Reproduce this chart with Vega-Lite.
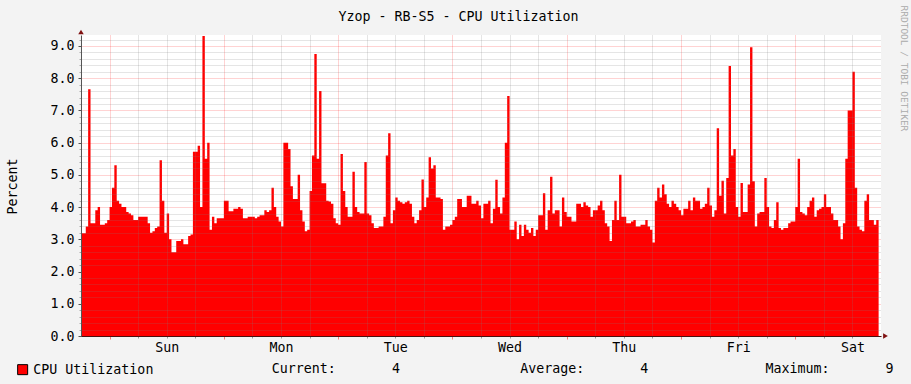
{
"$schema": "https://vega.github.io/schema/vega-lite/v6.json",
"width": 800,
"height": 301,
"autosize": {"type": "none"},
"padding": {"left": 81, "top": 35, "right": 30, "bottom": 48},
"background": "#F3F3F3",
"config": {
  "view": {"fill": "#FFFFFF", "stroke": null},
  "font": "DejaVu Sans Mono",
  "axis": {"labelFont": "DejaVu Sans Mono", "titleFont": "DejaVu Sans Mono", "labelFontSize": 13.3, "titleFontSize": 13.3, "labelColor": "#000000", "titleColor": "#000000", "titleFontWeight": "normal"}
},
"title": {"text": "Yzop - RB-S5 - CPU Utilization", "font": "DejaVu Sans Mono", "fontSize": 13.3, "fontWeight": "normal", "color": "#000000", "anchor": "middle", "frame": "group", "dx": -22.5, "offset": -25, "baseline": "middle"},
"data": {"values": [
{"t":"2024-06-01T18:00Z","v":3.19},{"t":"2024-06-01T18:30Z","v":3.19},{"t":"2024-06-01T19:00Z","v":3.4},{"t":"2024-06-01T19:30Z","v":7.66},{"t":"2024-06-01T20:00Z","v":3.5},{"t":"2024-06-01T20:30Z","v":3.5},{"t":"2024-06-01T21:00Z","v":3.9},{"t":"2024-06-01T21:30Z","v":4.0},{"t":"2024-06-01T22:00Z","v":3.45},{"t":"2024-06-01T22:30Z","v":3.45},{"t":"2024-06-01T23:00Z","v":3.5},{"t":"2024-06-01T23:30Z","v":3.6},
{"t":"2024-06-02T00:00Z","v":4.0},{"t":"2024-06-02T00:30Z","v":4.6},{"t":"2024-06-02T01:00Z","v":5.3},{"t":"2024-06-02T01:30Z","v":4.2},{"t":"2024-06-02T02:00Z","v":4.1},{"t":"2024-06-02T02:30Z","v":4.0},{"t":"2024-06-02T03:00Z","v":4.0},{"t":"2024-06-02T03:30Z","v":3.85},{"t":"2024-06-02T04:00Z","v":3.8},{"t":"2024-06-02T04:30Z","v":3.75},{"t":"2024-06-02T05:00Z","v":3.6},{"t":"2024-06-02T05:30Z","v":3.6},{"t":"2024-06-02T06:00Z","v":3.7},{"t":"2024-06-02T06:30Z","v":3.7},{"t":"2024-06-02T07:00Z","v":3.7},{"t":"2024-06-02T07:30Z","v":3.7},{"t":"2024-06-02T08:00Z","v":3.5},{"t":"2024-06-02T08:30Z","v":3.2},{"t":"2024-06-02T09:00Z","v":3.25},{"t":"2024-06-02T09:30Z","v":3.35},{"t":"2024-06-02T10:00Z","v":3.4},{"t":"2024-06-02T10:30Z","v":5.45},{"t":"2024-06-02T11:00Z","v":4.2},{"t":"2024-06-02T11:30Z","v":3.2},{"t":"2024-06-02T12:00Z","v":3.8},{"t":"2024-06-02T12:30Z","v":3.0},{"t":"2024-06-02T13:00Z","v":2.6},{"t":"2024-06-02T13:30Z","v":2.6},{"t":"2024-06-02T14:00Z","v":2.95},{"t":"2024-06-02T14:30Z","v":2.95},{"t":"2024-06-02T15:00Z","v":3.0},{"t":"2024-06-02T15:30Z","v":2.85},{"t":"2024-06-02T16:00Z","v":2.85},{"t":"2024-06-02T16:30Z","v":3.1},{"t":"2024-06-02T17:00Z","v":3.15},{"t":"2024-06-02T17:30Z","v":5.72},{"t":"2024-06-02T18:00Z","v":5.72},{"t":"2024-06-02T18:30Z","v":5.9},{"t":"2024-06-02T19:00Z","v":4.0},{"t":"2024-06-02T19:30Z","v":9.31},{"t":"2024-06-02T20:00Z","v":5.5},{"t":"2024-06-02T20:30Z","v":6.0},{"t":"2024-06-02T21:00Z","v":3.3},{"t":"2024-06-02T21:30Z","v":3.7},{"t":"2024-06-02T22:00Z","v":3.5},{"t":"2024-06-02T22:30Z","v":3.65},{"t":"2024-06-02T23:00Z","v":3.65},{"t":"2024-06-02T23:30Z","v":3.65},
{"t":"2024-06-03T00:00Z","v":4.2},{"t":"2024-06-03T00:30Z","v":4.2},{"t":"2024-06-03T01:00Z","v":3.87},{"t":"2024-06-03T01:30Z","v":3.87},{"t":"2024-06-03T02:00Z","v":3.95},{"t":"2024-06-03T02:30Z","v":3.95},{"t":"2024-06-03T03:00Z","v":4.0},{"t":"2024-06-03T03:30Z","v":3.95},{"t":"2024-06-03T04:00Z","v":3.65},{"t":"2024-06-03T04:30Z","v":3.65},{"t":"2024-06-03T05:00Z","v":3.7},{"t":"2024-06-03T05:30Z","v":3.7},{"t":"2024-06-03T06:00Z","v":3.7},{"t":"2024-06-03T06:30Z","v":3.65},{"t":"2024-06-03T07:00Z","v":3.7},{"t":"2024-06-03T07:30Z","v":3.75},{"t":"2024-06-03T08:00Z","v":3.75},{"t":"2024-06-03T08:30Z","v":3.9},{"t":"2024-06-03T09:00Z","v":3.85},{"t":"2024-06-03T09:30Z","v":3.9},{"t":"2024-06-03T10:00Z","v":4.6},{"t":"2024-06-03T10:30Z","v":4.0},{"t":"2024-06-03T11:00Z","v":3.7},{"t":"2024-06-03T11:30Z","v":3.55},{"t":"2024-06-03T12:00Z","v":3.4},{"t":"2024-06-03T12:30Z","v":6.0},{"t":"2024-06-03T13:00Z","v":6.0},{"t":"2024-06-03T13:30Z","v":5.8},{"t":"2024-06-03T14:00Z","v":4.65},{"t":"2024-06-03T14:30Z","v":4.25},{"t":"2024-06-03T15:00Z","v":4.25},{"t":"2024-06-03T15:30Z","v":5.0},{"t":"2024-06-03T16:00Z","v":3.9},{"t":"2024-06-03T16:30Z","v":3.55},{"t":"2024-06-03T17:00Z","v":3.25},{"t":"2024-06-03T17:30Z","v":3.3},{"t":"2024-06-03T18:00Z","v":4.5},{"t":"2024-06-03T18:30Z","v":5.6},{"t":"2024-06-03T19:00Z","v":8.75},{"t":"2024-06-03T19:30Z","v":5.5},{"t":"2024-06-03T20:00Z","v":7.6},{"t":"2024-06-03T20:30Z","v":4.74},{"t":"2024-06-03T21:00Z","v":4.74},{"t":"2024-06-03T21:30Z","v":4.2},{"t":"2024-06-03T22:00Z","v":4.17},{"t":"2024-06-03T22:30Z","v":4.1},{"t":"2024-06-03T23:00Z","v":3.65},{"t":"2024-06-03T23:30Z","v":3.5},
{"t":"2024-06-04T00:00Z","v":3.45},{"t":"2024-06-04T00:30Z","v":5.65},{"t":"2024-06-04T01:00Z","v":4.5},{"t":"2024-06-04T01:30Z","v":4.0},{"t":"2024-06-04T02:00Z","v":3.7},{"t":"2024-06-04T02:30Z","v":3.7},{"t":"2024-06-04T03:00Z","v":5.1},{"t":"2024-06-04T03:30Z","v":4.0},{"t":"2024-06-04T04:00Z","v":3.85},{"t":"2024-06-04T04:30Z","v":3.8},{"t":"2024-06-04T05:00Z","v":3.8},{"t":"2024-06-04T05:30Z","v":5.4},{"t":"2024-06-04T06:00Z","v":3.8},{"t":"2024-06-04T06:30Z","v":3.75},{"t":"2024-06-04T07:00Z","v":3.5},{"t":"2024-06-04T07:30Z","v":3.35},{"t":"2024-06-04T08:00Z","v":3.35},{"t":"2024-06-04T08:30Z","v":3.4},{"t":"2024-06-04T09:00Z","v":3.4},{"t":"2024-06-04T09:30Z","v":3.7},{"t":"2024-06-04T10:00Z","v":5.6},{"t":"2024-06-04T10:30Z","v":6.29},{"t":"2024-06-04T11:00Z","v":3.5},{"t":"2024-06-04T11:30Z","v":3.9},{"t":"2024-06-04T12:00Z","v":4.3},{"t":"2024-06-04T12:30Z","v":4.2},{"t":"2024-06-04T13:00Z","v":4.15},{"t":"2024-06-04T13:30Z","v":4.1},{"t":"2024-06-04T14:00Z","v":4.15},{"t":"2024-06-04T14:30Z","v":4.2},{"t":"2024-06-04T15:00Z","v":4.1},{"t":"2024-06-04T15:30Z","v":3.7},{"t":"2024-06-04T16:00Z","v":3.5},{"t":"2024-06-04T16:30Z","v":3.6},{"t":"2024-06-04T17:00Z","v":3.9},{"t":"2024-06-04T17:30Z","v":4.86},{"t":"2024-06-04T18:00Z","v":4.0},{"t":"2024-06-04T18:30Z","v":4.3},{"t":"2024-06-04T19:00Z","v":5.55},{"t":"2024-06-04T19:30Z","v":5.2},{"t":"2024-06-04T20:00Z","v":5.3},{"t":"2024-06-04T20:30Z","v":4.3},{"t":"2024-06-04T21:00Z","v":4.3},{"t":"2024-06-04T21:30Z","v":4.25},{"t":"2024-06-04T22:00Z","v":3.3},{"t":"2024-06-04T22:30Z","v":3.4},{"t":"2024-06-04T23:00Z","v":3.4},{"t":"2024-06-04T23:30Z","v":3.45},
{"t":"2024-06-05T00:00Z","v":3.6},{"t":"2024-06-05T00:30Z","v":3.7},{"t":"2024-06-05T01:00Z","v":4.25},{"t":"2024-06-05T01:30Z","v":4.25},{"t":"2024-06-05T02:00Z","v":4.0},{"t":"2024-06-05T02:30Z","v":4.0},{"t":"2024-06-05T03:00Z","v":4.35},{"t":"2024-06-05T03:30Z","v":4.35},{"t":"2024-06-05T04:00Z","v":4.1},{"t":"2024-06-05T04:30Z","v":4.1},{"t":"2024-06-05T05:00Z","v":4.2},{"t":"2024-06-05T05:30Z","v":4.05},{"t":"2024-06-05T06:00Z","v":3.65},{"t":"2024-06-05T06:30Z","v":4.1},{"t":"2024-06-05T07:00Z","v":4.1},{"t":"2024-06-05T07:30Z","v":4.2},{"t":"2024-06-05T08:00Z","v":3.5},{"t":"2024-06-05T08:30Z","v":3.95},{"t":"2024-06-05T09:00Z","v":4.85},{"t":"2024-06-05T09:30Z","v":4.0},{"t":"2024-06-05T10:00Z","v":3.8},{"t":"2024-06-05T10:30Z","v":4.3},{"t":"2024-06-05T11:00Z","v":6.0},{"t":"2024-06-05T11:30Z","v":7.45},{"t":"2024-06-05T12:00Z","v":3.3},{"t":"2024-06-05T12:30Z","v":3.3},{"t":"2024-06-05T13:00Z","v":3.55},{"t":"2024-06-05T13:30Z","v":3.0},{"t":"2024-06-05T14:00Z","v":3.45},{"t":"2024-06-05T14:30Z","v":3.1},{"t":"2024-06-05T15:00Z","v":3.45},{"t":"2024-06-05T15:30Z","v":3.3},{"t":"2024-06-05T16:00Z","v":3.2},{"t":"2024-06-05T16:30Z","v":3.35},{"t":"2024-06-05T17:00Z","v":3.1},{"t":"2024-06-05T17:30Z","v":3.3},{"t":"2024-06-05T18:00Z","v":3.75},{"t":"2024-06-05T18:30Z","v":3.75},{"t":"2024-06-05T19:00Z","v":4.43},{"t":"2024-06-05T19:30Z","v":3.3},{"t":"2024-06-05T20:00Z","v":3.9},{"t":"2024-06-05T20:30Z","v":4.94},{"t":"2024-06-05T21:00Z","v":3.8},{"t":"2024-06-05T21:30Z","v":3.9},{"t":"2024-06-05T22:00Z","v":3.9},{"t":"2024-06-05T22:30Z","v":3.4},{"t":"2024-06-05T23:00Z","v":4.3},{"t":"2024-06-05T23:30Z","v":3.85},
{"t":"2024-06-06T00:00Z","v":3.7},{"t":"2024-06-06T00:30Z","v":3.7},{"t":"2024-06-06T01:00Z","v":3.55},{"t":"2024-06-06T01:30Z","v":3.55},{"t":"2024-06-06T02:00Z","v":4.1},{"t":"2024-06-06T02:30Z","v":4.1},{"t":"2024-06-06T03:00Z","v":4.0},{"t":"2024-06-06T03:30Z","v":4.15},{"t":"2024-06-06T04:00Z","v":4.05},{"t":"2024-06-06T04:30Z","v":4.0},{"t":"2024-06-06T05:00Z","v":3.7},{"t":"2024-06-06T05:30Z","v":3.9},{"t":"2024-06-06T06:00Z","v":3.9},{"t":"2024-06-06T06:30Z","v":4.05},{"t":"2024-06-06T07:00Z","v":4.2},{"t":"2024-06-06T07:30Z","v":3.9},{"t":"2024-06-06T08:00Z","v":3.5},{"t":"2024-06-06T08:30Z","v":3.4},{"t":"2024-06-06T09:00Z","v":2.95},{"t":"2024-06-06T09:30Z","v":3.6},{"t":"2024-06-06T10:00Z","v":4.2},{"t":"2024-06-06T10:30Z","v":3.6},{"t":"2024-06-06T11:00Z","v":5.0},{"t":"2024-06-06T11:30Z","v":3.7},{"t":"2024-06-06T12:00Z","v":3.7},{"t":"2024-06-06T12:30Z","v":3.5},{"t":"2024-06-06T13:00Z","v":3.5},{"t":"2024-06-06T13:30Z","v":3.55},{"t":"2024-06-06T14:00Z","v":3.6},{"t":"2024-06-06T14:30Z","v":3.4},{"t":"2024-06-06T15:00Z","v":3.4},{"t":"2024-06-06T15:30Z","v":3.45},{"t":"2024-06-06T16:00Z","v":3.45},{"t":"2024-06-06T16:30Z","v":3.6},{"t":"2024-06-06T17:00Z","v":3.4},{"t":"2024-06-06T17:30Z","v":3.3},{"t":"2024-06-06T18:00Z","v":2.9},{"t":"2024-06-06T18:30Z","v":4.2},{"t":"2024-06-06T19:00Z","v":4.6},{"t":"2024-06-06T19:30Z","v":4.3},{"t":"2024-06-06T20:00Z","v":4.7},{"t":"2024-06-06T20:30Z","v":4.4},{"t":"2024-06-06T21:00Z","v":4.1},{"t":"2024-06-06T21:30Z","v":4.0},{"t":"2024-06-06T22:00Z","v":4.2},{"t":"2024-06-06T22:30Z","v":4.1},{"t":"2024-06-06T23:00Z","v":4.0},{"t":"2024-06-06T23:30Z","v":3.9},
{"t":"2024-06-07T00:00Z","v":3.75},{"t":"2024-06-07T00:30Z","v":3.95},{"t":"2024-06-07T01:00Z","v":3.95},{"t":"2024-06-07T01:30Z","v":4.2},{"t":"2024-06-07T02:00Z","v":3.9},{"t":"2024-06-07T02:30Z","v":4.3},{"t":"2024-06-07T03:00Z","v":4.2},{"t":"2024-06-07T03:30Z","v":4.2},{"t":"2024-06-07T04:00Z","v":3.95},{"t":"2024-06-07T04:30Z","v":4.0},{"t":"2024-06-07T05:00Z","v":4.1},{"t":"2024-06-07T05:30Z","v":4.6},{"t":"2024-06-07T06:00Z","v":4.05},{"t":"2024-06-07T06:30Z","v":3.7},{"t":"2024-06-07T07:00Z","v":3.9},{"t":"2024-06-07T07:30Z","v":6.45},{"t":"2024-06-07T08:00Z","v":4.35},{"t":"2024-06-07T08:30Z","v":4.82},{"t":"2024-06-07T09:00Z","v":3.8},{"t":"2024-06-07T09:30Z","v":4.9},{"t":"2024-06-07T10:00Z","v":8.38},{"t":"2024-06-07T10:30Z","v":5.6},{"t":"2024-06-07T11:00Z","v":5.8},{"t":"2024-06-07T11:30Z","v":4.0},{"t":"2024-06-07T12:00Z","v":3.7},{"t":"2024-06-07T12:30Z","v":4.75},{"t":"2024-06-07T13:00Z","v":3.85},{"t":"2024-06-07T13:30Z","v":3.85},{"t":"2024-06-07T14:00Z","v":4.7},{"t":"2024-06-07T14:30Z","v":8.96},{"t":"2024-06-07T15:00Z","v":4.8},{"t":"2024-06-07T15:30Z","v":3.4},{"t":"2024-06-07T16:00Z","v":3.8},{"t":"2024-06-07T16:30Z","v":3.85},{"t":"2024-06-07T17:00Z","v":3.85},{"t":"2024-06-07T17:30Z","v":4.9},{"t":"2024-06-07T18:00Z","v":4.0},{"t":"2024-06-07T18:30Z","v":3.4},{"t":"2024-06-07T19:00Z","v":3.35},{"t":"2024-06-07T19:30Z","v":3.6},{"t":"2024-06-07T20:00Z","v":4.15},{"t":"2024-06-07T20:30Z","v":3.35},{"t":"2024-06-07T21:00Z","v":3.3},{"t":"2024-06-07T21:30Z","v":3.35},{"t":"2024-06-07T22:00Z","v":3.35},{"t":"2024-06-07T22:30Z","v":3.5},{"t":"2024-06-07T23:00Z","v":3.55},{"t":"2024-06-07T23:30Z","v":3.55},
{"t":"2024-06-08T00:00Z","v":4.0},{"t":"2024-06-08T00:30Z","v":5.5},{"t":"2024-06-08T01:00Z","v":3.85},{"t":"2024-06-08T01:30Z","v":3.8},{"t":"2024-06-08T02:00Z","v":3.75},{"t":"2024-06-08T02:30Z","v":4.0},{"t":"2024-06-08T03:00Z","v":4.2},{"t":"2024-06-08T03:30Z","v":4.3},{"t":"2024-06-08T04:00Z","v":3.7},{"t":"2024-06-08T04:30Z","v":3.9},{"t":"2024-06-08T05:00Z","v":3.95},{"t":"2024-06-08T05:30Z","v":4.0},{"t":"2024-06-08T06:00Z","v":4.4},{"t":"2024-06-08T06:30Z","v":4.0},{"t":"2024-06-08T07:00Z","v":4.0},{"t":"2024-06-08T07:30Z","v":3.8},{"t":"2024-06-08T08:00Z","v":3.6},{"t":"2024-06-08T08:30Z","v":3.6},{"t":"2024-06-08T09:00Z","v":3.4},{"t":"2024-06-08T09:30Z","v":3.0},{"t":"2024-06-08T10:00Z","v":3.5},{"t":"2024-06-08T10:30Z","v":5.5},{"t":"2024-06-08T11:00Z","v":7.0},{"t":"2024-06-08T11:30Z","v":7.0},{"t":"2024-06-08T12:00Z","v":8.2},{"t":"2024-06-08T12:30Z","v":4.6},{"t":"2024-06-08T13:00Z","v":3.4},{"t":"2024-06-08T13:30Z","v":3.3},{"t":"2024-06-08T14:00Z","v":3.25},{"t":"2024-06-08T14:30Z","v":4.2},{"t":"2024-06-08T15:00Z","v":4.4},{"t":"2024-06-08T15:30Z","v":3.6},{"t":"2024-06-08T16:00Z","v":3.6},{"t":"2024-06-08T16:30Z","v":3.45},{"t":"2024-06-08T17:00Z","v":3.6},{"t":"2024-06-08T17:30Z","v":3.6}
]},
"layer": [
  {
    "mark": {"type": "area", "interpolate": "step-after", "opacity": 1},
    "encoding": {
      "x": {"field": "t", "type": "temporal",
        "scale": {"type": "utc", "domain": [1717264800000, 1717869600000]},
        "axis": {"orient": "bottom", "values": [1717308000000, 1717329600000, 1717351200000, 1717394400000, 1717416000000, 1717437600000, 1717480800000, 1717502400000, 1717524000000, 1717567200000, 1717588800000, 1717610400000, 1717653600000, 1717675200000, 1717696800000, 1717740000000, 1717761600000, 1717783200000, 1717826400000, 1717848000000],
          "labels": false, "grid": true, "gridColor": "#7f7f7f", "gridOpacity": 0.4, "gridDash": [1, 1],
          "ticks": true, "tickSize": 2, "tickColor": "#999999", "domain": false, "zindex": 1,
          "title": "Current:\u00a0\u00a0\u00a0\u00a0\u00a0\u00a0\u00a04", "titleX": 190.3, "titleY": 32, "titleAlign": "left", "titleBaseline": "middle", "titleAngle": 0}},
      "y": {"field": "v", "type": "quantitative",
        "scale": {"domain": [0, 9.34], "nice": false, "zero": true},
        "axis": {"orient": "left", "values": [0.2,0.4,0.6,0.8,1.2,1.4,1.6,1.8,2.2,2.4,2.6,2.8,3.2,3.4,3.6,3.8,4.2,4.4,4.6,4.8,5.2,5.4,5.6,5.8,6.2,6.4,6.6,6.8,7.2,7.4,7.6,7.8,8.2,8.4,8.6,8.8,9.2],
          "labels": false, "grid": true, "gridColor": "#7f7f7f", "gridOpacity": 0.4, "gridDash": [1, 1],
          "ticks": true, "tickSize": 2, "tickColor": "#aaaaaa", "domain": true, "domainColor": "#555555", "zindex": 1, "title": null}},
      "color": {"datum": "CPU Utilization", "scale": {"range": ["#FF0000"]},
        "legend": {"orient": "none", "legendX": -65, "legendY": 328, "title": null, "symbolType": "square", "symbolSize": 100, "symbolStrokeColor": "#000000", "symbolStrokeWidth": 1, "symbolOpacity": 1, "labelFont": "DejaVu Sans Mono", "labelFontSize": 13.3, "labelColor": "#000000", "labelOffset": 4, "padding": 0}}
    }
  },
  {
    "mark": {"type": "area", "interpolate": "step-after", "opacity": 0},
    "encoding": {
      "x": {"field": "t", "type": "temporal",
        "axis": {"orient": "bottom", "values": [1717286400000, 1717372800000, 1717459200000, 1717545600000, 1717632000000, 1717718400000, 1717804800000],
          "labels": false, "grid": true, "gridColor": "#FF0000", "gridOpacity": 0.35, "gridDash": [1, 1],
          "ticks": true, "tickSize": 3, "tickColor": "#FF0000", "tickOpacity": 0.5, "domain": false, "zindex": 1,
          "title": "Average:\u00a0\u00a0\u00a0\u00a0\u00a0\u00a0\u00a04", "titleX": 438.7, "titleY": 32, "titleAlign": "left", "titleBaseline": "middle", "titleAngle": 0}},
      "y": {"field": "v", "type": "quantitative",
        "axis": {"orient": "left", "values": [0,1,2,3,4,5,6,7,8,9], "format": ".1f",
          "grid": true, "gridColor": "#FF0000", "gridOpacity": 0.35, "gridDash": [1, 1],
          "ticks": true, "tickSize": 3, "tickColor": "#555555", "labelPadding": 4, "domain": false, "zindex": 1,
          "title": "Percent", "titleX": -69, "titleY": 151, "titleBaseline": "middle", "titleAngle": 270}}
    }
  },
  {
    "mark": {"type": "area", "interpolate": "step-after", "opacity": 0},
    "encoding": {
      "x": {"field": "t", "type": "temporal",
        "axis": {"orient": "bottom", "values": [1717329600000, 1717416000000, 1717502400000, 1717588800000, 1717675200000, 1717761600000, 1717848000000],
          "labelExpr": "utcFormat(datum.value, '%a')", "grid": false, "ticks": false, "labelPadding": 4,
          "domain": true, "domainColor": "#4a1010", "zindex": 2,
          "title": "Maximum:\u00a0\u00a0\u00a0\u00a0\u00a0\u00a0\u00a09", "titleX": 684, "titleY": 32, "titleAlign": "left", "titleBaseline": "middle", "titleAngle": 0}},
      "y": {"field": "v", "type": "quantitative",
        "axis": {"orient": "right", "labels": false, "ticks": false, "grid": false, "domain": false,
          "title": "RRDTOOL / TOBI OETIKER", "titleAngle": 90, "titleX": 22, "titleY": -30, "titleAlign": "left", "titleBaseline": "middle", "titleFontSize": 9.5, "titleColor": "#aaaaaa"}}
    }
  },
  {
    "data": {"values": [{}]},
    "mark": {"type": "point", "shape": "triangle-up", "filled": true, "color": "#7f1010", "size": 30, "opacity": 1, "yOffset": -3},
    "encoding": {
      "x": {"datum": {"year": 2024, "month": 6, "date": 1, "hours": 18, "utc": true}, "type": "temporal", "axis": null},
      "y": {"datum": 9.34, "type": "quantitative", "axis": null}
    }
  },
  {
    "data": {"values": [{}]},
    "mark": {"type": "point", "shape": "triangle-right", "filled": true, "color": "#7f1010", "size": 30, "opacity": 1, "xOffset": 4.5},
    "encoding": {
      "x": {"datum": {"year": 2024, "month": 6, "date": 8, "hours": 18, "utc": true}, "type": "temporal", "axis": null},
      "y": {"datum": 0, "type": "quantitative", "axis": null}
    }
  }
],
"resolve": {"axis": {"x": "independent", "y": "independent"}}
}
